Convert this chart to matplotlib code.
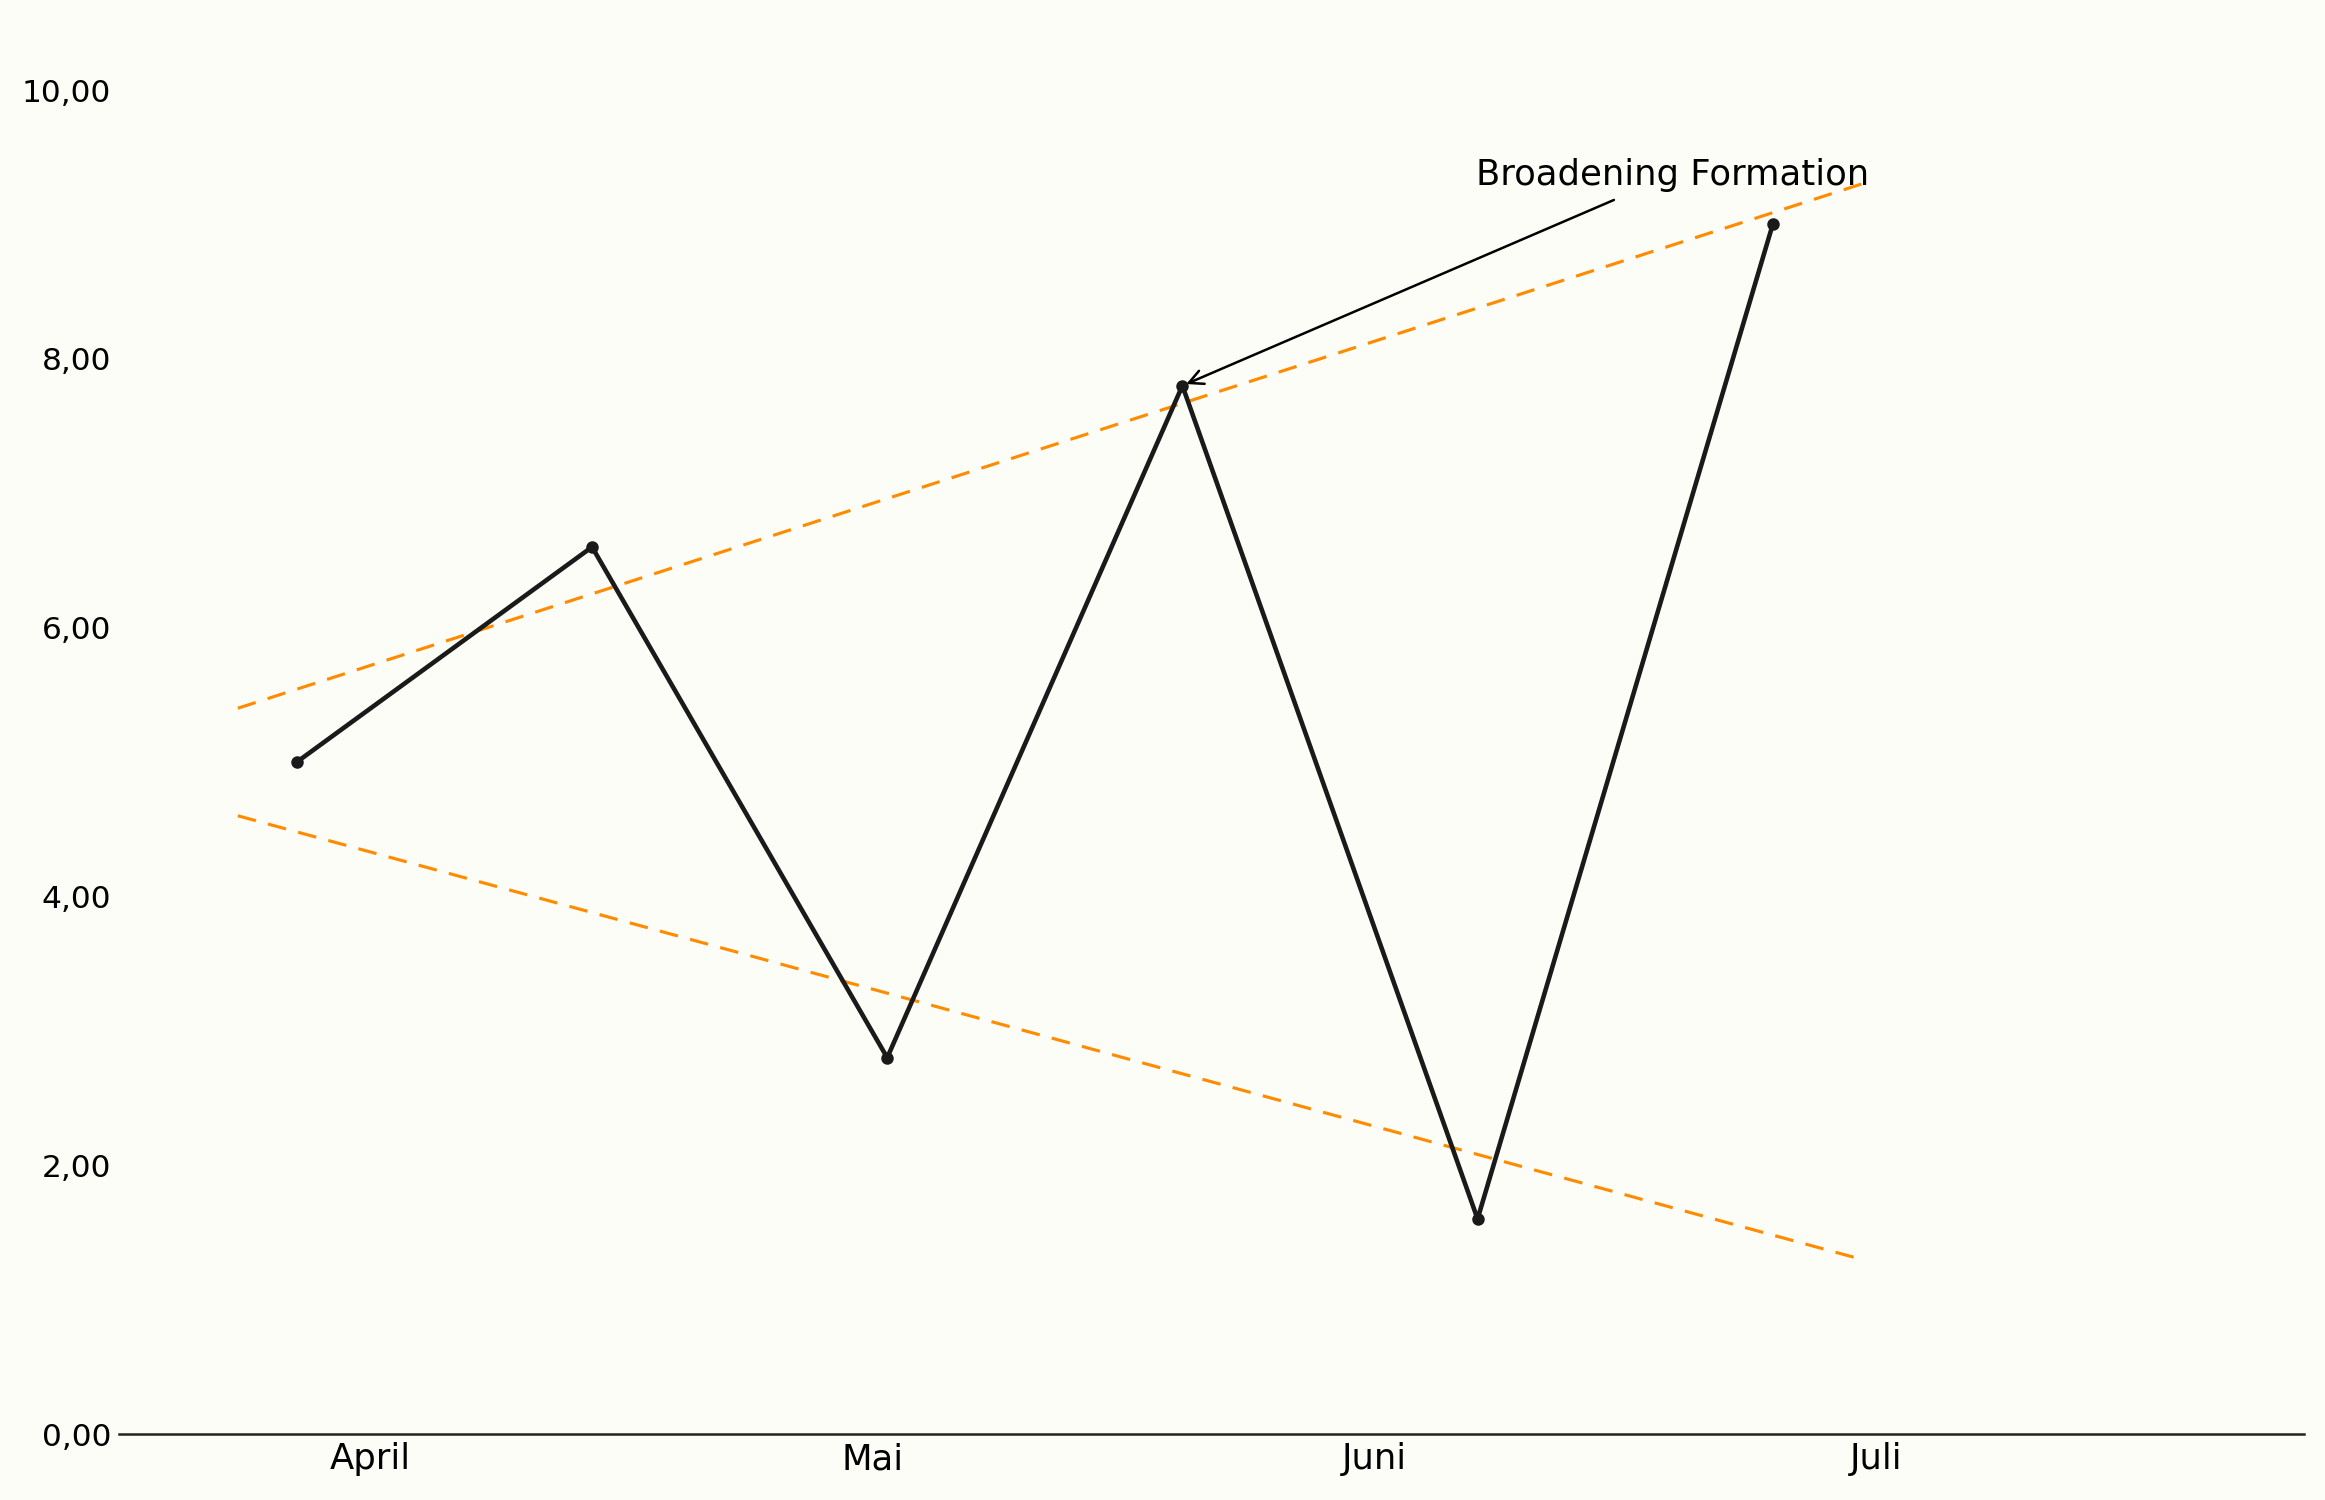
import matplotlib.pyplot as plt

# Kursverlauf (Punkte) und Trendlinien der Broadening Formation
x_points = [0, 1, 2, 3, 4, 5]
y_points = [5.0, 6.6, 2.8, 7.8, 1.6, 9.0]

upper_x = [-0.2, 5.3]
upper_y = [5.4, 9.3]
lower_x = [-0.2, 5.3]
lower_y = [4.6, 1.3]

month_pos = [0.25, 1.95, 3.65, 5.35]
month_labels = ['April', 'Mai', 'Juni', 'Juli']
y_ticks = [0, 2, 4, 6, 8, 10]

bg = '#fdfdf8'

fig, ax = plt.subplots(figsize=(15.5, 10), dpi=150)
fig.patch.set_facecolor(bg)
ax.set_facecolor(bg)
fig.subplots_adjust(left=0.051, right=0.991, top=0.94, bottom=0.044)

ax.plot(upper_x, upper_y, color='#ff8c00', lw=1.5, dashes=(6, 4))
ax.plot(lower_x, lower_y, color='#ff8c00', lw=1.5, dashes=(6, 4))
ax.plot(x_points, y_points, color='#1a1a1a', lw=2.2, marker='o', markersize=5)

ax.annotate('Broadening Formation', xy=(3, 7.8), xytext=(3.995, 9.37),
            fontsize=17, ha='left', va='center',
            arrowprops=dict(arrowstyle='->', color='black', lw=1.2,
                            shrinkA=5, shrinkB=2))

ax.set_xlim(-0.604, 6.8)
ax.set_ylim(0, 10)
ax.set_xticks(month_pos)
ax.set_xticklabels(month_labels, fontsize=17)
ax.set_yticks(y_ticks)
ax.set_yticklabels([f'{v:.2f}'.replace('.', ',') for v in y_ticks], fontsize=15)
ax.tick_params(axis='both', length=0)
ax.tick_params(axis='x', pad=4)

for s in ['top', 'right', 'left']:
    ax.spines[s].set_visible(False)
ax.spines['bottom'].set_color('#222222')
ax.spines['bottom'].set_linewidth(1.2)

fig.savefig('out.png', dpi=150, facecolor=bg)
